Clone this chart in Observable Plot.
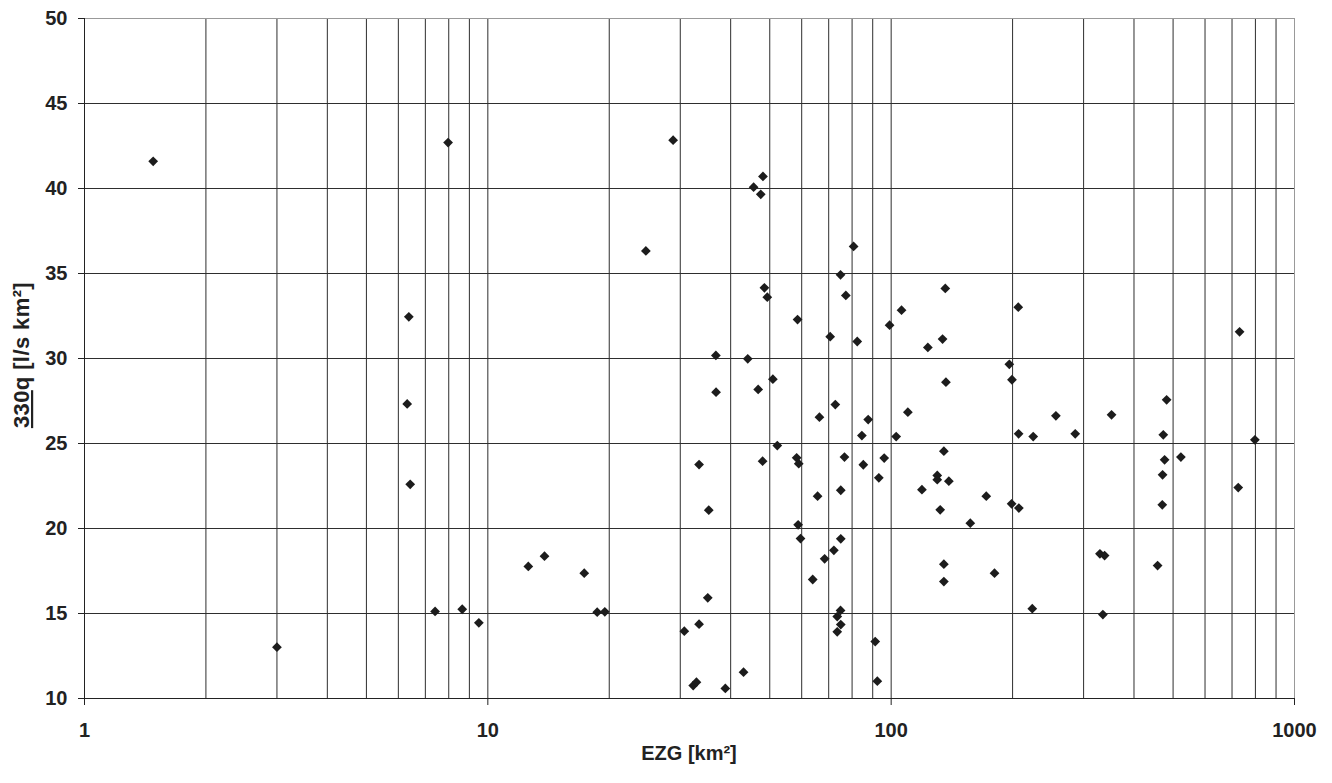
<!DOCTYPE html>
<html><head><meta charset="utf-8">
<script src="https://cdn.jsdelivr.net/npm/d3@7"></script>
<script src="https://cdn.jsdelivr.net/npm/@observablehq/plot@0.6"></script>
<style>body{margin:0;background:#fff}#chart{width:1332px;height:783px}</style>
</head><body><div id="chart"></div>
<script>
// EZG [km²] (catchment area) and 330q [l/s km²]
const ezg = [1.48, 3.0, 6.37, 6.31, 6.42, 7.40, 7.97, 8.64, 9.50, 12.6, 13.82, 17.34, 18.67, 19.5,
  24.65, 28.8, 30.7, 32.3, 32.9, 33.4, 33.4, 35.1, 35.3, 36.76, 36.8, 38.8, 43.05, 44.1, 45.6, 46.8,
  47.5, 48.0, 48.1, 48.5, 49.3, 50.9, 52.2, 58.3, 58.6, 58.8, 59.0, 59.6, 63.9, 65.7, 66.4, 68.4,
  70.6, 72.1, 72.7, 73.5, 73.5, 74.9, 74.9, 75.0, 75.0, 75.0, 76.6, 77.2, 80.7, 82.4, 84.6, 85.3,
  87.7, 91.3, 92.4, 93.2, 96.1, 99.1, 102.9, 106.1, 110.0, 119.2, 123.3, 130.1, 130.1, 132.3, 134.1,
  135.1, 135.1, 135.1, 136.2, 136.7, 139.0, 157.1, 172.1, 180.4, 196.3, 198.9, 199.3, 206.6, 207.0,
  207.3, 223.8, 225.0, 256.1, 286.0, 329.3, 334.9, 338.2, 351.9, 457.7, 470.1, 470.9, 472.8, 476.4,
  481.9, 522.8, 725.3, 730.9, 797.6];
const q330 = [41.6, 13.02, 32.45, 27.33, 22.6, 15.12, 42.7, 15.25, 14.45, 17.77, 18.37, 17.37, 15.08, 15.1,
  36.33, 42.84, 13.96, 10.76, 10.96, 14.37, 23.76, 15.92, 21.08, 30.18, 28.02, 10.59, 11.55, 29.98, 40.08, 28.18,
  39.66, 23.96, 40.71, 34.16, 33.61, 28.78, 24.88, 24.16, 32.29, 20.22, 23.81, 19.41, 17.0, 21.9, 26.55, 18.22,
  31.28, 18.72, 27.29, 14.82, 13.92, 15.18, 34.92, 22.25, 19.39, 14.35, 24.2, 33.71, 36.59, 31.0, 25.47, 23.75,
  26.41, 13.35, 11.02, 22.98, 24.14, 31.96, 25.41, 32.84, 26.84, 22.28, 30.65, 23.12, 22.87, 21.1, 31.14,
  24.55, 17.9, 16.88, 34.12, 28.61, 22.78, 20.31, 21.9, 17.37, 29.66, 21.45, 28.75, 33.02, 25.57,
  21.2, 15.28, 25.41, 26.63, 25.57, 18.51, 14.94, 18.41, 26.69, 17.82, 21.39, 23.16, 25.51, 24.04,
  27.57, 24.2, 22.41, 31.57, 25.22];

const xTicks = [1, 10, 100, 1000];
const xGrid = [2, 3, 4, 5, 6, 7, 8, 9, 10, 20, 30, 40, 50, 60, 70, 80, 90, 100,
  200, 300, 400, 500, 600, 700, 800, 900];
const yTicks = [10, 15, 20, 25, 30, 35, 40, 45, 50];
const yGrid = [15, 20, 25, 30, 35, 40, 45];

const data = ezg.map((x, i) => ({x, y: q330[i]}));
const font = "'Liberation Sans', Arial, sans-serif";

const plot = Plot.plot({
  width: 1332, height: 783,
  marginLeft: 84, marginRight: 38, marginTop: 18, marginBottom: 85,
  style: {fontFamily: font, fontSize: "20px", fontWeight: "bold", color: "#222", background: "#fff"},
  x: {type: "log", domain: [1, 1000], label: null},
  y: {domain: [10, 50], label: null},
  marks: [
    Plot.ruleX(xGrid, {stroke: "#2e2e2e", strokeWidth: 1}),
    Plot.ruleY(yGrid, {stroke: "#2e2e2e", strokeWidth: 1}),
    Plot.ruleY([50], {stroke: "#999"}),
    Plot.ruleX([1000], {stroke: "#999"}),
    Plot.ruleX([1], {stroke: "#222"}),
    Plot.ruleY([10], {stroke: "#222"}),
    Plot.axisX(xTicks, {tickSize: 7, tickPadding: 17, tickFormat: d => String(d), stroke: "#222", label: null}),
    Plot.axisY(yTicks, {tickSize: 6, tickPadding: 11, tickFormat: d => String(d), stroke: "#222", label: null}),
    Plot.dot(data, {x: "x", y: "y", symbol: "diamond2", r: 4.4, fill: "#1c1c1c", stroke: null})
  ]
});

const svg = d3.select(plot);
svg.append("text")
  .attr("x", 689).attr("y", 760)
  .attr("text-anchor", "middle")
  .style("font-family", font).style("font-size", "20px").style("font-weight", "bold").style("fill", "#222")
  .text("EZG [km²]");
const yt = svg.append("text")
  .attr("transform", "translate(29,355) rotate(-90)")
  .attr("text-anchor", "middle")
  .style("font-family", font).style("font-size", "22px").style("font-weight", "bold")
  .style("letter-spacing", "0.4px").style("fill", "#222");
yt.append("tspan").attr("text-decoration", "underline").style("text-decoration", "underline").text("330");
yt.append("tspan").text("q [l/s km²]");

document.getElementById("chart").appendChild(plot);
</script>
</body></html>
